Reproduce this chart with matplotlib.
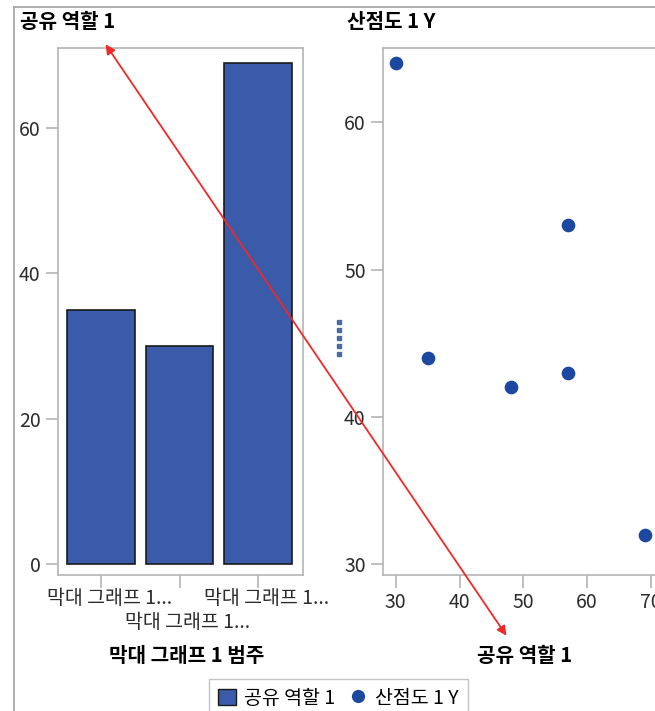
import matplotlib
matplotlib.use("Agg")
import matplotlib.pyplot as plt
from matplotlib.patches import Patch, FancyArrowPatch
from matplotlib.lines import Line2D
from matplotlib.transforms import ScaledTranslation

plt.rcParams['font.family'] = ['Noto Sans CJK KR', 'DejaVu Sans']

# data
bar_labels = ['막대 그래프 1...', '막대 그래프 1...', '막대 그래프 1...']
bar_values = [35, 30, 69]
scatter_x = [30, 35, 48, 57, 57, 69]
scatter_y = [64, 44, 42, 53, 43, 32]
bar_yticks = [0, 20, 40, 60]
sc_xticks = [30, 40, 50, 60, 70]
sc_yticks = [30, 40, 50, 60]

W, H = 655, 711
BAR = '#3A5AAA'
DOT = '#1C48A0'
GRID = '#b4b4b4'
TXT = '#2b2b2b'

def fx(px):
    return px / W

def fy(py):
    return 1 - py / H

fig = plt.figure(figsize=(W / 100, H / 100), dpi=100)

ax1 = fig.add_axes([fx(58), fy(575), fx(303) - fx(58), fy(48) - fy(575)])
ax2 = fig.add_axes([fx(383), fy(575), fx(667) - fx(383), fy(48) - fy(575)])

def style(ax):
    for s in ax.spines.values():
        s.set_color(GRID)
        s.set_linewidth(1.2)
    ax.tick_params(colors=GRID, labelcolor=TXT, labelsize=14, length=9, width=1.2)

# bar chart
ax1.bar(range(len(bar_values)), bar_values, width=0.86, color=BAR, edgecolor='#1a1a1a', linewidth=1.2)
ax1.set_xlim(-0.55, 2.57)
ax1.set_ylim(-1.5, 71)
ax1.set_yticks(bar_yticks)
ax1.set_xticks(range(len(bar_labels)))
ax1.set_xticklabels(bar_labels)
style(ax1)
ax1.tick_params(axis='x', pad=0)
# staggered category labels, drawn a little right of the tick like the original
for i, lab in enumerate(ax1.get_xticklabels()):
    dy = -24 if i == 1 else 0
    lab.set_transform(lab.get_transform() + ScaledTranslation(8 / 100, dy / 100, fig.dpi_scale_trans))

# scatter
ax2.scatter(scatter_x, scatter_y, s=78, color=DOT, zorder=3)
ax2.set_xlim(28, 72.5)
ax2.set_ylim(29.25, 65.05)
ax2.set_xticks(sc_xticks)
ax2.set_yticks(sc_yticks)
style(ax2)

# titles and axis labels
fig.text(fx(20), fy(22), '공유 역할 1', fontsize=14.5, fontweight='bold', va='center', ha='left')
fig.text(fx(347), fy(22), '산점도 1 Y', fontsize=14.5, fontweight='bold', va='center', ha='left')
fig.text(fx(187), fy(655), '막대 그래프 1 범주', fontsize=14.5, fontweight='bold', va='center', ha='center')
fig.text(fx(525), fy(655), '공유 역할 1', fontsize=14.5, fontweight='bold', va='center', ha='center')

# outer frame lines
fig.add_artist(Line2D([fx(13.5), fx(13.5)], [fy(7), 0], transform=fig.transFigure, color='#a8a8a8', lw=1.3))
fig.add_artist(Line2D([fx(13.5), 1], [fy(7), fy(7)], transform=fig.transFigure, color='#a8a8a8', lw=1.3))

# resize handle dots
fig.add_artist(Line2D([fx(339)] * 5, [fy(322), fy(330), fy(338), fy(346), fy(354)],
                      transform=fig.transFigure, linestyle='none', marker='s',
                      markersize=2.8, color='#4a6aa8'))

# red arrow
arr = FancyArrowPatch((fx(104), fy(42)), (fx(508), fy(638)), transform=fig.transFigure,
                      arrowstyle='<|-|>', mutation_scale=14, color='#f02828', lw=1.3, zorder=10)
fig.add_artist(arr)

handles = [Patch(facecolor=BAR, edgecolor='#1a1a1a', label='공유 역할 1'),
           Line2D([], [], linestyle='none', marker='o', markersize=8.5, color=DOT, label='산점도 1 Y')]
fig.legend(handles=handles, loc='upper center', bbox_to_anchor=(fx(338.5), fy(679)), ncol=2,
           frameon=True, fancybox=False, edgecolor=GRID, fontsize=14, handlelength=0.9,
           handleheight=0.9, handletextpad=0.45, columnspacing=0.7, borderpad=0.45,
           borderaxespad=0)

fig.savefig('out.png', dpi=100)
